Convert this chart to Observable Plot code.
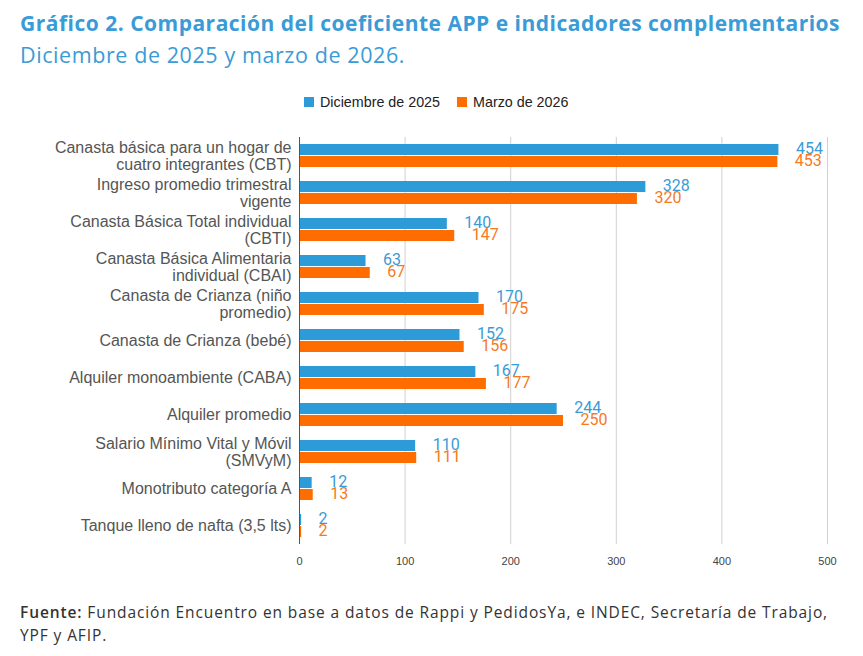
<!DOCTYPE html>
<html><head><meta charset="utf-8">
<script src="https://cdn.jsdelivr.net/npm/d3@7"></script>
<script src="https://cdn.jsdelivr.net/npm/@observablehq/plot@0.6"></script>
<style>
body{margin:0;background:#fff;width:863px;height:656px;position:relative;overflow:hidden;font-family:"Open Sans","Noto Sans",sans-serif}
#title{position:absolute;left:20px;top:9px;font-weight:700;font-size:21px;color:#3a9bd6;white-space:nowrap}
#subtitle{position:absolute;left:20px;top:40px;font-weight:400;font-size:21.5px;color:#3a9bd6;white-space:nowrap}
#legend{position:absolute;left:304px;top:94px;font-family:"Liberation Sans",Arial,sans-serif;font-size:14.3px;color:#222;display:flex;align-items:center;white-space:nowrap}
#legend .sw{display:inline-block;width:10px;height:10px;margin-right:6px}
#legend .item{display:flex;align-items:center;margin-right:17px}
#chart{position:absolute;left:0;top:120px}
#source{position:absolute;left:20px;top:601px;font-size:15.5px;color:#333;line-height:23px;white-space:nowrap}
#source b{font-weight:600}
</style></head><body>
<div id="title">Gráfico 2. Comparación del coeficiente APP e indicadores complementarios</div>
<div id="subtitle">Diciembre de 2025 y marzo de 2026.</div>
<div id="legend"></div>
<div id="chart"></div>
<div id="source"><span id="src1"><b>Fuente:</b> Fundación Encuentro en base a datos de Rappi y PedidosYa, e INDEC, Secretaría de Trabajo,</span><br><span id="src2">YPF y AFIP.</span></div>
<script>
const categories = [
  "Canasta básica para un hogar de cuatro integrantes (CBT)",
  "Ingreso promedio trimestral vigente",
  "Canasta Básica Total individual (CBTI)",
  "Canasta Básica Alimentaria individual (CBAI)",
  "Canasta de Crianza (niño promedio)",
  "Canasta de Crianza (bebé)",
  "Alquiler monoambiente (CABA)",
  "Alquiler promedio",
  "Salario Mínimo Vital y Móvil (SMVyM)",
  "Monotributo categoría A",
  "Tanque lleno de nafta (3,5 lts)"
];
const categoryLabels = [
  "Canasta básica para un hogar de\ncuatro integrantes (CBT)",
  "Ingreso promedio trimestral\nvigente",
  "Canasta Básica Total individual\n(CBTI)",
  "Canasta Básica Alimentaria\nindividual (CBAI)",
  "Canasta de Crianza (niño\npromedio)",
  "Canasta de Crianza (bebé)",
  "Alquiler monoambiente (CABA)",
  "Alquiler promedio",
  "Salario Mínimo Vital y Móvil\n(SMVyM)",
  "Monotributo categoría A",
  "Tanque lleno de nafta (3,5 lts)"
];
const series = ["Diciembre de 2025", "Marzo de 2026"];
const dic2025 = [454, 328, 140, 63, 170, 152, 167, 244, 110, 12, 2];
const mar2026 = [453, 320, 147, 67, 175, 156, 177, 250, 111, 13, 2];
const xTicks = [0, 100, 200, 300, 400, 500];

const barColors = ["#2e9bd9", "#ff6d00"];
const textColors = ["#3a9bd6", "#f57a1f"];

const data = categories.flatMap((c, i) => [
  {category: c, series: series[0], value: dic2025[i]},
  {category: c, series: series[1], value: mar2026[i]}
]);
const labelOf = new Map(categories.map((c, i) => [c, categoryLabels[i]]));

// fit header/footer text widths to the reference
function fit(el, target) {
  const w = el.getBoundingClientRect().width;
  const n = el.textContent.length;
  el.style.letterSpacing = ((target - w) / n) + "px";
}
fit(document.getElementById("title"), 820);
fit(document.getElementById("subtitle"), 385);
const s1 = document.getElementById("src1");
fit(s1, 808);
document.getElementById("src2").style.letterSpacing = s1.style.letterSpacing;

// legend
const leg = document.getElementById("legend");
series.forEach((s, i) => {
  const it = document.createElement("span");
  it.className = "item";
  it.innerHTML = `<span class="sw" style="background:${barColors[i]}"></span>${s}`;
  leg.appendChild(it);
});

const chart = Plot.plot({
  width: 863,
  height: 460,
  marginTop: 13,
  marginBottom: 33,
  marginLeft: 299,
  marginRight: 36,
  style: {fontFamily: "'Liberation Sans', Arial, sans-serif", background: "#fff"},
  x: {domain: [0, 500], label: null},
  fy: {domain: categories, padding: 0, label: null, axis: null},
  y: {domain: series, paddingInner: 0.12, paddingOuter: 0.56, axis: null},
  color: {domain: series, range: barColors},
  marks: [
    Plot.gridX(xTicks, {stroke: "#d0d0d0", strokeOpacity: 1}),
    Plot.barX(data, {x: "value", y: "series", fy: "category", fill: "series"}),
    Plot.ruleX([0], {stroke: "#555", strokeWidth: 1}),
    Plot.text(data.filter(d => d.series === series[0]), {
      x: "value", y: "series", fy: "category", text: d => String(d.value),
      dx: 17, dy: -1, textAnchor: "start", fill: textColors[0], fontSize: 16, fontFamily: "Roboto"
    }),
    Plot.text(data.filter(d => d.series === series[1]), {
      x: "value", y: "series", fy: "category", text: d => String(d.value),
      dx: 17, dy: -1, textAnchor: "start", fill: textColors[1], fontSize: 16, fontFamily: "Roboto"
    }),
    Plot.axisX(xTicks, {tickSize: 0, tickPadding: 13, fontSize: 11, fill: "#444", label: null}),
    Plot.axisFy({
      anchor: "left", tickSize: 0, tickPadding: 8, fontSize: 16, lineHeight: 1.03,
      fill: "#555", label: null, tickFormat: d => labelOf.get(d)
    })
  ]
});
document.getElementById("chart").appendChild(chart);
</script>
</body></html>
